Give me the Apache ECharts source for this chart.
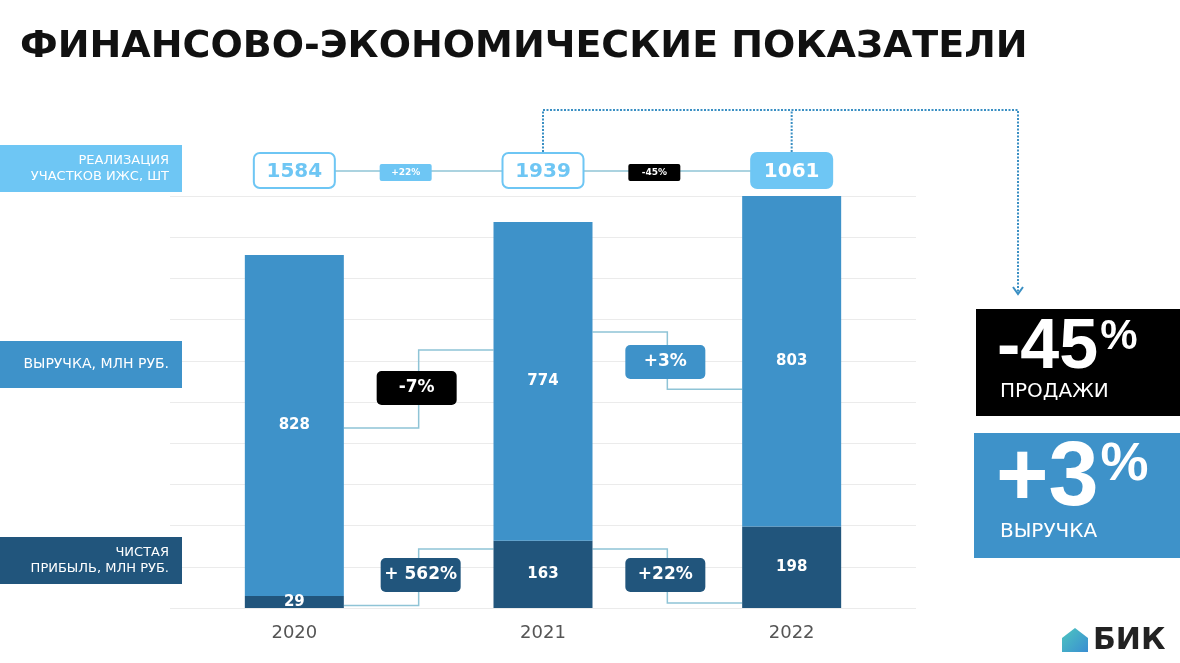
<!DOCTYPE html>
<html><head><meta charset="utf-8">
<script src="https://cdn.jsdelivr.net/npm/echarts@6/dist/echarts.min.js"></script>
<style>html,body{margin:0;padding:0;background:#fff}#c{width:1180px;height:663px}</style>
</head><body><div id="c"></div>
<script>
const years = ['2020', '2021', '2022'];
const profit = [29, 163, 198];
const revenue = [828, 774, 803];
const sales = [1584, 1939, 1061];
const salesChange = ['+22%', '-45%'];
const revenueChange = ['-7%', '+3%'];
const profitChange = ['+ 562%', '+22%'];
const yTicks = [0, 100, 200, 300, 400, 500, 600, 700, 800, 900, 1000];

const FONT = '"DejaVu Sans", sans-serif';
const BIG = '"Liberation Sans", Arial, sans-serif';
const C_LIGHT = '#6ec6f4', C_REV = '#3e92c9', C_PROF = '#21557c', C_LINK = '#8fc4d6';

const chart = echarts.init(document.getElementById('c'), null, {renderer: 'canvas'});
chart.setOption({
  animation: false,
  grid: {left: 170, right: 264, top: 196, bottom: 55},
  xAxis: {type: 'category', data: years, axisLine: {show: false}, axisTick: {show: false},
    axisLabel: {color: '#555', fontSize: 18, fontFamily: FONT, margin: 16}},
  yAxis: {type: 'value', min: yTicks[0], max: yTicks[yTicks.length - 1], interval: 100,
    axisLabel: {show: false}, axisLine: {show: false}, axisTick: {show: false},
    splitLine: {lineStyle: {color: '#ebebeb', width: 1}}},
  series: [
    {type: 'bar', stack: 't', data: profit, barWidth: 99, itemStyle: {color: C_PROF},
      label: {show: true, position: 'inside', color: '#fff', fontWeight: 'bold', fontSize: 15, fontFamily: FONT}},
    {type: 'bar', stack: 't', data: revenue, barWidth: 99, itemStyle: {color: C_REV},
      label: {show: true, position: 'inside', color: '#fff', fontWeight: 'bold', fontSize: 15, fontFamily: FONT}}
  ]
});

const px = i => chart.convertToPixel({xAxisIndex: 0}, i);
const py = v => chart.convertToPixel({yAxisIndex: 0}, v);
const halfBar = 49.5;
const g = [];
const mctx = document.createElement('canvas').getContext('2d');
function measure(t, font) { mctx.font = font; return mctx.measureText(t).width; }

// title
g.push({type: 'text', x: 20, y: 47, style: {text: 'ФИНАНСОВО-ЭКОНОМИЧЕСКИЕ ПОКАЗАТЕЛИ', fill: '#111', font: 'bold 38px ' + FONT, verticalAlign: 'middle'}});

// left labels
function leftLabel(y, h, color, text, fs) {
  g.push({type: 'rect', shape: {x: 0, y: y, width: 182, height: h}, style: {fill: color}});
  g.push({type: 'text', x: 169, y: y + h / 2, style: {text: text, fill: '#fff', font: fs + 'px ' + FONT, align: 'right', verticalAlign: 'middle', lineHeight: 16}});
}
leftLabel(145, 47, C_LIGHT, 'РЕАЛИЗАЦИЯ\nУЧАСТКОВ ИЖС, ШТ', 13);
leftLabel(341, 47, C_REV, 'ВЫРУЧКА, МЛН РУБ.', 14);
leftLabel(537, 47, C_PROF, 'ЧИСТАЯ\nПРИБЫЛЬ, МЛН РУБ.', 13);

// sales row
const rowY = 171;
g.push({type: 'line', shape: {x1: px(0), y1: rowY, x2: px(2), y2: rowY}, style: {stroke: C_LINK, lineWidth: 1.5}});
sales.forEach((v, i) => {
  const filled = i === sales.length - 1;
  g.push({type: 'rect', shape: {x: px(i) - 40.5, y: 153, width: 81, height: 35, r: 6},
    style: {fill: filled ? C_LIGHT : '#fff', stroke: C_LIGHT, lineWidth: 2}});
  g.push({type: 'text', x: px(i), y: rowY + 1, style: {text: String(v), fill: filled ? '#fff' : C_LIGHT, font: 'bold 20px ' + FONT, align: 'center', verticalAlign: 'middle'}});
});
salesChange.forEach((t, i) => {
  const cx = (px(i) + px(i + 1)) / 2 - 13;
  const neg = t.startsWith('-');
  g.push({type: 'rect', shape: {x: cx - 26, y: 164, width: 52, height: 17, r: 2}, style: {fill: neg ? '#000' : C_LIGHT}});
  g.push({type: 'text', x: cx, y: 172.5, style: {text: t, fill: '#fff', font: 'bold 9px ' + FONT, align: 'center', verticalAlign: 'middle'}});
});

// dotted links to the right panel
const dot = {stroke: '#3a8fc3', lineWidth: 2, lineDash: [2, 1.5]};
g.push({type: 'polyline', shape: {points: [[px(1), 152], [px(1), 110], [1018, 110], [1018, 293]]}, style: Object.assign({fill: null}, dot)});
g.push({type: 'line', shape: {x1: px(2), y1: 152, x2: px(2), y2: 110}, style: dot});
g.push({type: 'polyline', shape: {points: [[1013, 287], [1018, 294], [1023, 287]]}, style: {stroke: '#3a8fc3', lineWidth: 2, fill: null}});

// connectors between bars
function connector(i, vFrom, vTo, t, fill, boxY, dx) {
  const xa = px(i) + halfBar, xb = px(i + 1) - halfBar, xm = (px(i) + px(i + 1)) / 2;
  g.push({type: 'polyline', shape: {points: [[xa, py(vFrom)], [xm, py(vFrom)], [xm, py(vTo)], [xb, py(vTo)]]}, style: {stroke: C_LINK, lineWidth: 1.5, fill: null}});
  const bx = xm + dx;
  g.push({type: 'rect', shape: {x: bx - 40, y: boxY - 17, width: 80, height: 34, r: 5}, style: {fill: fill}});
  g.push({type: 'text', x: bx, y: boxY, style: {text: t, fill: '#fff', font: 'bold 17px ' + FONT, align: 'center', verticalAlign: 'middle'}});
}
connector(0, 437, 626, revenueChange[0], '#000', 388, -2);
connector(1, 670, 531, revenueChange[1], C_REV, 362, -2);
connector(0, 6, 143, profitChange[0], C_PROF, 575, 2);
connector(1, 143, 12, profitChange[1], C_PROF, 575, -2);

// right panels
function bigNum(x, yMid, t, size, pctSize, pctY) {
  const f = 'bold ' + size + 'px ' + BIG;
  g.push({type: 'text', x: x, y: yMid, style: {text: t, fill: '#fff', font: f, verticalAlign: 'middle'}});
  const w = measure(t, f);
  g.push({type: 'text', x: x + w + 2, y: pctY, style: {text: '%', fill: '#fff', font: 'bold ' + pctSize + 'px ' + BIG, verticalAlign: 'middle'}});
}
g.push({type: 'rect', shape: {x: 976, y: 309, width: 204, height: 107}, style: {fill: '#000'}});
bigNum(997, 349, '-45', 70, 42, 337);
g.push({type: 'text', x: 1000, y: 392, style: {text: 'ПРОДАЖИ', fill: '#fff', font: '20px ' + FONT, verticalAlign: 'middle'}});
g.push({type: 'rect', shape: {x: 974, y: 433, width: 206, height: 125}, style: {fill: C_REV}});
bigNum(996, 480, '+3', 90, 54, 465);
g.push({type: 'text', x: 1000, y: 532, style: {text: 'ВЫРУЧКА', fill: '#fff', font: '20px ' + FONT, verticalAlign: 'middle'}});

// logo
g.push({type: 'polygon', shape: {points: [[1062, 638], [1075, 628], [1088, 638], [1088, 652], [1062, 652]]},
  style: {fill: new echarts.graphic.LinearGradient(0, 0, 1, 1, [{offset: 0, color: '#4dc6bf'}, {offset: 1, color: '#3a8ed2'}])}});
g.push({type: 'text', x: 1093, y: 641, style: {text: 'БИК', fill: '#222', font: 'bold 30px ' + FONT, verticalAlign: 'middle'}});

chart.setOption({graphic: {elements: g}});
</script></body></html>
